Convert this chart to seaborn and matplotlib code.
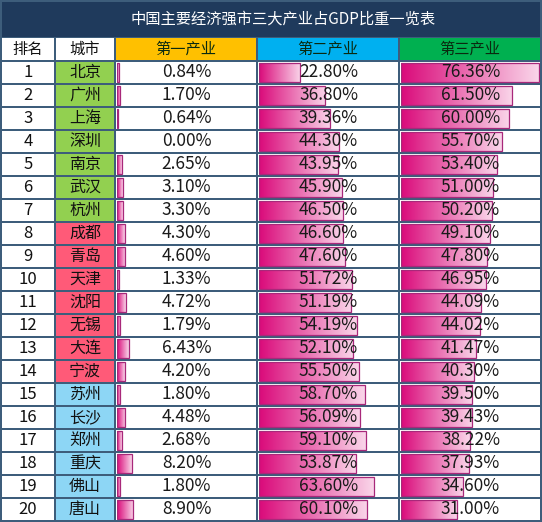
import matplotlib
matplotlib.use("Agg")
import matplotlib.pyplot as plt
import matplotlib.patches as mpatches
from matplotlib.colors import to_rgb
import numpy as np
import pandas as pd
import seaborn as sns

# 数据
title = "中国主要经济强市三大产业占GDP比重一览表"
headers = ["排名", "城市", "第一产业", "第二产业", "第三产业"]
cities = ["北京", "广州", "上海", "深圳", "南京", "武汉", "杭州", "成都", "青岛", "天津",
          "沈阳", "无锡", "大连", "宁波", "苏州", "长沙", "郑州", "重庆", "佛山", "唐山"]
ranks = list(range(1, 21))
primary = [0.84, 1.70, 0.64, 0.00, 2.65, 3.10, 3.30, 4.30, 4.60, 1.33,
           4.72, 1.79, 6.43, 4.20, 1.80, 4.48, 2.68, 8.20, 1.80, 8.90]
secondary = [22.80, 36.80, 39.36, 44.30, 43.95, 45.90, 46.50, 46.60, 47.60, 51.72,
             51.19, 54.19, 52.10, 55.50, 58.70, 56.09, 59.10, 53.87, 63.60, 60.10]
tertiary = [76.36, 61.50, 60.00, 55.70, 53.40, 51.00, 50.20, 49.10, 47.80, 46.95,
            44.09, 44.02, 41.47, 40.30, 39.50, 39.43, 38.22, 37.93, 34.60, 31.00]
city_group = ["A"] * 7 + ["B"] * 7 + ["C"] * 6

df = pd.DataFrame({"rank": ranks, "city": cities, "第一产业": primary,
                   "第二产业": secondary, "第三产业": tertiary, "group": city_group})

# 样式
sns.set_style("white")
plt.rcParams["font.family"] = ["Noto Sans CJK SC", "DejaVu Sans"]

W, H = 542, 522
grid_col = "#3d5d7b"
title_bg = "#1f3a5c"
header_bg = {"第一产业": "#ffc000", "第二产业": "#00b0f0", "第三产业": "#00b050"}
group_bg = {"A": "#92d050", "B": "#ff5a78", "C": "#8dd6f5"}
col_edges = [1, 55, 115, 257, 399, 541]
title_h, header_top, row_top, row_h = 37, 37, 61, 23

fig = plt.figure(figsize=(W / 100, H / 100), dpi=100)
fig.patch.set_facecolor(grid_col)

tab = fig.add_axes([0, 0, 1, 1])
tab.set_xlim(0, W)
tab.set_ylim(H, 0)
tab.axis("off")

def cell(x0, x1, y0, y1, color):
    tab.add_patch(mpatches.Rectangle((x0 + 1, y0 + 1), x1 - x0 - 2, y1 - y0 - 2,
                                     facecolor=color, edgecolor="none", zorder=1))

# 标题
tab.add_patch(mpatches.Rectangle((2, 2), W - 4, title_h - 2, facecolor=title_bg,
                                 edgecolor="none", zorder=1))
tab.text(W / 2 + 12, title_h / 2 + 1, title, color="white", fontsize=11,
         ha="center", va="center", zorder=3)

# 表头
for j, h in enumerate(headers):
    x0, x1 = col_edges[j], col_edges[j + 1]
    cell(x0, x1, header_top, row_top, header_bg.get(h, "white"))
    tab.text((x0 + x1) / 2, (header_top + row_top) / 2, h,
             color="#0a2a10" if h in header_bg else "#111111",
             fontsize=11, ha="center", va="center", zorder=3)

# 数据行
for i, row in df.iterrows():
    y0 = row_top + i * row_h
    y1 = y0 + row_h
    yc = (y0 + y1) / 2
    for j in range(5):
        x0, x1 = col_edges[j], col_edges[j + 1]
        color = group_bg[row["group"]] if j == 1 else "white"
        cell(x0, x1, y0, y1, color)
    tab.text((col_edges[0] + col_edges[1]) / 2, yc, str(row["rank"]), fontsize=12,
             ha="center", va="center", color="#111111", zorder=3)
    tab.text((col_edges[1] + col_edges[2]) / 2, yc, row["city"], fontsize=11.5,
             ha="center", va="center", color="#111111", zorder=3)

# 数据条
c_left = np.array(to_rgb("#da0a7a"))
c_right = np.array(to_rgb("#fad6ea"))
grad = np.linspace(0, 1, 256)[None, :, None]
grad_img = c_left * (1 - grad) + c_right * grad
xmax = 77

for j, col in enumerate(["第一产业", "第二产业", "第三产业"]):
    x0, x1 = col_edges[j + 2], col_edges[j + 3]
    left = (x0 + 2) / W
    width = (x1 - x0 - 3) / W
    bottom = 1 - (row_top + 20 * row_h) / H
    height = 20 * row_h / H
    ax = fig.add_axes([left, bottom, width, height])
    ax.patch.set_alpha(0)
    sns.barplot(data=df, x=col, y="city", orient="h", ax=ax, width=0.82,
                color="#da0a7a", saturation=1, errorbar=None)
    for p in list(ax.patches):
        w = p.get_width()
        if w <= 0:
            p.set_visible(False)
            continue
        bx, by = p.get_x(), p.get_y()
        bh = p.get_height()
        im = ax.imshow(grad_img, extent=[bx, bx + w, by + bh, by], aspect="auto",
                       zorder=2, interpolation="bilinear")
        im.set_clip_path(p)
        p.set_facecolor("none")
        p.set_edgecolor("#a8287a")
        p.set_linewidth(0.9)
        p.set_zorder(3)
    ax.set_xlim(0, xmax)
    ax.set_ylim(19.5, -0.5)
    ax.axis("off")
    for i, v in enumerate(df[col]):
        ax.text(xmax / 2, i, f"{v:.2f}%", fontsize=12.5, ha="center", va="center",
                color="#1a1a1a", zorder=4)

fig.savefig("out.png", dpi=100, facecolor=grid_col)
